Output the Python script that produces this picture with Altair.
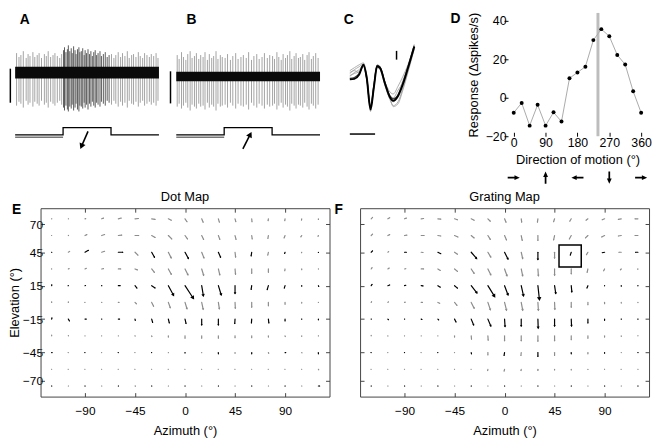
import math
import altair as alt
import numpy as np
import pandas as pd

FONT = "Liberation Sans"

# ---------------- Panels A & B: extracellular recordings (time in s, amplitude in a.u.) ----------------
A_SPIKE_T = [0.03, 0.08, 0.12, 0.17, 0.23, 0.27, 0.31, 0.37, 0.41, 0.46, 0.50, 0.55, 0.61, 0.65, 0.69, 0.74, 0.79, 0.83, 0.88, 0.93, 0.97,
             1.01, 1.03, 1.06, 1.09, 1.11, 1.14, 1.17, 1.19, 1.22, 1.25, 1.27, 1.30, 1.33, 1.35, 1.38, 1.41, 1.44, 1.46, 1.49, 1.52,
             1.55, 1.58, 1.61, 1.64, 1.67, 1.70, 1.73, 1.77, 1.80, 1.84, 1.88, 1.92, 1.96,
             2.01, 2.06, 2.10, 2.15, 2.20, 2.24, 2.29, 2.34, 2.38, 2.43, 2.47, 2.52, 2.57, 2.61, 2.66, 2.70, 2.75, 2.80, 2.84, 2.89, 2.94, 2.98]
A_SPIKE_TOP = [20, 16, 18, 22, 15, 19, 17, 21, 16, 18, 20, 15, 19, 17, 22, 16, 18, 20, 17, 15, 19,
               23, 26, 21, 24, 28, 22, 25, 20, 27, 23, 19, 24, 26, 21, 22, 25, 18, 23, 20, 24,
               19, 22, 17, 21, 23, 18, 20, 22, 17, 19, 21, 16, 18,
               19, 15, 18, 21, 16, 20, 17, 22, 15, 18, 19, 16, 21, 17, 15, 20, 18, 16, 19, 17, 20, 15]
A_SPIKE_BOT = [-34, -30, -32, -36, -29, -33, -31, -35, -30, -32, -34, -29, -33, -31, -36, -30, -32, -34, -31, -29, -33,
               -36, -39, -34, -38, -40, -35, -37, -33, -39, -36, -32, -38, -40, -34, -35, -37, -31, -36, -33, -38,
               -32, -35, -30, -34, -36, -31, -33, -35, -30, -32, -34, -29, -31,
               -33, -29, -32, -35, -30, -34, -31, -36, -29, -32, -33, -30, -35, -31, -29, -34, -32, -30, -33, -31, -34, -29]
B_SPIKE_T = [0.02, 0.06, 0.11, 0.15, 0.20, 0.24, 0.29, 0.33, 0.38, 0.42, 0.47, 0.51, 0.56, 0.60, 0.65, 0.69, 0.74, 0.78, 0.83, 0.87,
             0.92, 0.96, 1.02, 1.07, 1.13, 1.18, 1.24, 1.29, 1.35, 1.40, 1.46, 1.51, 1.57, 1.62, 1.68, 1.73, 1.79, 1.84, 1.90, 1.95,
             2.01, 2.05, 2.10, 2.14, 2.19, 2.23, 2.28, 2.32, 2.37, 2.41, 2.46, 2.50, 2.55, 2.59, 2.64, 2.68, 2.73, 2.77, 2.82, 2.86,
             2.91, 2.96]
B_SPIKE_TOP = [22, 18, 25, 20, 17, 23, 26, 19, 21, 24, 18, 22, 20, 25, 17, 23, 19, 21, 26, 18,
               22, 20, 19, 23, 17, 21, 24, 18, 20, 22, 19, 25, 17, 21, 23, 18, 20, 24, 19, 22,
               21, 18, 25, 20, 17, 23, 19, 22, 26, 18, 21, 24, 19, 20, 23, 17, 22, 25, 18, 21,
               24, 19]
B_SPIKE_BOT = [-31, -28, -33, -30, -27, -32, -35, -29, -31, -33, -28, -31, -30, -34, -27, -32, -29, -31, -35, -28,
               -31, -30, -29, -32, -27, -30, -33, -28, -30, -31, -29, -34, -27, -30, -32, -28, -30, -33, -29, -31,
               -30, -28, -34, -30, -27, -32, -29, -31, -35, -28, -30, -33, -29, -30, -32, -27, -31, -34, -28, -30,
               -33, -29]
A_BASELINE, A_NOISE = 0.0, 6.0
B_BASELINE, B_NOISE = -4.0, 4.8
TRACE_START, TRACE_END = 0.0, 3.0
STIM_T = [0.0, 1.0, 1.0, 2.0, 2.0, 3.0]
STIM_LEVEL = [-64.0, -64.0, -56.5, -56.5, -64.0, -64.0]
STIM_PRE_T = [0.0, 1.0]
STIM_PRE_LEVEL = [-66.5, -66.5]
A_ARROW = [1.52, -60.5, 1.36, -78.5]      # tail t, tail y, tip t, tip y
B_ARROW = [1.39, -78.5, 1.57, -61.0]
A_SCALEBAR = [-0.10, 4.0, -31.0]           # t, y top, y bottom
B_SCALEBAR = [-0.12, 1.3, -31.7]

# ---------------- Panel C: spike waveforms (ms, a.u.) ----------------
C_T = [0.0, 0.18, 0.37, 0.54, 0.67, 0.82, 0.95, 1.08, 1.2, 1.4, 1.59, 1.72, 1.91, 2.1, 2.3, 2.55]
C_MEAN = [-7, -6.5, -2, 8, -5.5, -38, -15.5, 6.5, 4.5, -12, -25.5, -29, -24, -12, 4.5, 26.5]
C_DARK = [-6, -5, -1, 7, -6.5, -36, -14, 7.5, 5.5, -11, -24, -27, -23, -11, 5.5, 27.5]
C_GRAY = [
    [2, 5, 8, 10, -3, -36, -14, 7, 5, -10, -20, -22, -14, -4, 8, 28],
    [-1, 3, 6, 9, -6, -33, -13, 8, 6, -13, -28, -34, -30, -16, 2, 25],
    [-4, 0, 3, 7, -4, -40, -17, 5, 3, -14, -27, -30, -22, -8, 7, 29],
    [0, 2, 0, 6, -7, -35, -16, 7, 5, -11, -24, -26, -18, -10, 5, 27],
    [-3, -1, 1, 8, -5, -37, -15, 6, 4, -12, -26, -35, -32, -18, 0, 24],
]
C_VBAR = [1.85, 22.3, 13.3]
C_HBAR = [0.0, 1.0, -63.2]

# ---------------- Panel D: direction tuning ----------------
DIRECTIONS = [0, 22.5, 45, 67.5, 90, 112.5, 135, 157.5, 180, 202.5, 225, 247.5, 270, 292.5, 315, 337.5, 360]
RESPONSE = [-7.8, -2.7, -14.5, -3.7, -14.5, -7.6, -12.4, 10.1, 13.1, 16.1, 29.9, 35.6, 31.9, 22.2, 17.2, 3.3, -7.8]
PREFERRED_DIR = 238
ARROW_DIRS = [0, 90, 180, 270, 360]

# ---------------- Panels E & F: local motion maps ----------------
AZIMUTHS = [-120, -105, -90, -75, -60, -45, -30, -15, 0, 15, 30, 45, 60, 75, 90, 105, 120]
ELEVATIONS = [75, 60, 45, 30, 15, 0, -15, -30, -45, -60, -75]
E_U = [
    [0.5, 0.5, 1.0, 2.0, 3.0, 3.5, 3.5, 3.0, 2.0, 1.5, 1.0, 0.8, 0.3, -0.3, -0.3, -0.3, 0.0],
    [0.3, 0.5, 2.0, 3.0, 3.5, 3.8, 3.5, 3.5, 2.5, 2.0, 1.5, 1.0, 0.5, -0.5, -1.0, -1.0, -0.5],
    [0.5, 1.5, 3.5, 3.0, 4.5, 3.0, 2.9, 2.9, 3.5, 2.3, 2.3, 0.6, -0.6, -0.6, -0.5, -0.3, 0.0],
    [0.3, 1.0, 1.5, 2.0, 2.5, 2.5, 2.8, 3.0, 3.0, 2.0, 1.5, 0.5, 0.0, 0.0, -0.3, 0.0, 0.0],
    [0.2, 0.3, 0.8, 0.5, 2.0, 2.0, 3.5, 5.2, 8.2, 1.7, 2.9, 0.0, -0.6, -1.2, -0.8, 0.0, 0.5],
    [0.0, 0.0, 0.3, 0.5, 1.0, 1.5, 2.0, 2.0, 2.0, 1.5, 1.0, 0.3, 0.0, 0.0, 0.0, 0.0, 0.0],
    [0.3, 1.2, 1.5, 0.5, 1.5, 0.3, 1.0, 1.0, 1.0, 0.0, 0.0, -0.3, -0.3, 0.5, 0.0, 0.0, 0.0],
    [0.0, 0.3, 0.0, 0.0, 0.0, 0.3, 0.3, 0.0, 0.0, 0.0, 0.0, 0.0, 0.0, 0.0, 0.3, 0.0, 0.0],
    [0.8, 0.3, 0.3, 0.3, 0.3, 0.3, 0.3, 0.0, 0.0, 0.0, 0.0, 0.0, 0.0, 0.5, 1.0, 0.5, 0.0],
    [0.3, 0.3, 0.3, 0.3, 0.3, 0.3, 0.3, 0.3, 0.3, 0.3, 0.3, 0.3, 0.3, 0.3, 0.3, 0.3, 0.5],
    [0.5, 0.5, 0.5, 0.5, 0.5, 0.8, 0.5, 0.5, 0.5, 0.5, 0.5, 0.5, 0.5, 0.5, 0.5, 0.5, 1.5],
]
E_V = [
    [0.0, 0.0, 0.3, 0.8, 0.8, 0.3, -0.5, -1.5, -3.0, -3.5, -3.5, -3.0, -3.0, -2.0, -2.0, -1.5, -1.0],
    [0.0, 0.3, 1.0, 1.0, 0.5, 0.0, -2.0, -3.5, -3.5, -4.0, -4.0, -4.0, -3.5, -3.0, -2.5, -1.5, -1.0],
    [0.0, 1.0, 2.0, 1.0, 0.0, -3.0, -5.2, -5.8, -6.4, -5.8, -5.2, -5.0, -3.8, -3.0, -1.5, -0.8, -0.5],
    [0.0, 0.5, 0.8, 0.3, 0.0, -1.0, -3.5, -5.5, -6.0, -6.5, -6.0, -5.5, -4.5, -3.5, -2.0, -1.0, -0.5],
    [1.2, 0.0, 0.3, 0.0, 0.0, -2.5, -2.3, -9.6, -12.5, -10.2, -9.3, -7.9, -3.8, -4.0, -2.5, -0.8, -1.0],
    [1.0, 0.8, 0.0, 0.0, 0.0, -1.5, -4.0, -5.5, -6.5, -7.0, -6.5, -6.0, -5.0, -3.5, -2.0, -1.0, -0.3],
    [1.5, -2.0, 0.0, 0.0, 0.0, -1.5, -3.5, -4.0, -4.5, -6.0, -6.0, -4.5, -4.0, -4.0, -2.0, -0.5, -1.0],
    [1.0, 0.5, 0.0, 0.0, 0.0, -0.5, -1.0, -1.5, -2.5, -2.5, -2.5, -2.0, -2.0, -1.5, -1.0, -0.8, -0.5],
    [0.0, 0.0, 0.0, 0.0, 0.0, 0.0, 0.0, -0.5, -0.8, -0.5, -1.5, -1.0, -1.5, -1.0, -0.2, -0.5, -1.5],
    [0.0, 0.0, 0.0, 0.0, 0.0, 0.0, 0.0, 0.0, 0.0, 0.0, 0.0, 0.0, 0.0, 0.0, 0.0, 0.0, -0.8],
    [0.0, 0.0, 0.0, 0.0, 0.0, -0.2, 0.0, 0.0, 0.0, 0.0, 0.0, 0.0, 0.0, 0.0, 0.0, 0.0, 0.0],
]
F_U = [
    [1.5, 2.0, 2.0, 2.5, 3.0, 3.0, 3.0, 2.5, 1.5, 0.5, -0.5, -1.0, -1.5, -2.0, -2.5, -3.0, -3.0],
    [1.5, 2.0, 2.5, 3.0, 3.0, 3.5, 3.0, 2.5, 2.0, 1.0, 0.0, -1.0, -2.0, -2.5, -3.0, -3.0, -3.0],
    [1.5, 1.0, 2.0, 2.0, 3.0, 3.0, 5.5, 3.0, 3.5, 1.5, 0.0, 0.0, -1.0, -1.5, -2.5, -2.5, -2.5],
    [1.0, 1.5, 1.5, 2.5, 2.5, 3.0, 3.0, 3.0, 2.5, 1.5, 0.5, 0.0, 0.0, -0.8, -1.0, -1.0, -0.5],
    [1.0, 2.0, 1.5, 2.0, 2.5, 3.0, 5.8, 6.7, 3.5, 2.3, 1.5, 1.2, 0.6, -1.0, 0.0, 0.0, 0.0],
    [0.5, 0.8, 1.0, 1.5, 2.0, 2.5, 3.0, 2.5, 2.0, 1.5, 0.5, 0.3, 0.0, 0.0, 0.0, 0.0, 0.0],
    [0.5, 0.8, 0.5, 1.0, 1.0, 1.5, 2.5, 3.0, 0.5, 0.0, 0.3, 0.0, 0.3, 0.0, 0.0, 0.0, 0.0],
    [0.0, 0.0, 0.0, 0.0, 0.0, 0.0, 0.3, 0.3, 0.0, 0.0, 0.0, 0.0, 0.0, 0.0, 0.0, 0.0, 0.0],
    [0.3, 0.3, 0.3, 0.3, 0.3, 0.3, 0.3, 0.0, -0.5, -0.3, 0.0, 0.0, 0.0, 0.0, 0.0, 0.0, 0.5],
    [0.3, 0.3, 0.3, 0.3, 0.3, 0.3, 0.3, -0.3, -0.5, -0.3, 0.0, 0.0, 0.0, 0.0, 0.3, 0.3, 0.5],
    [0.5, 0.5, 0.5, 0.5, 0.5, 0.5, 0.5, 0.5, 0.5, 0.5, 0.5, 0.5, 0.5, 0.5, 0.5, 0.5, 0.5],
]
F_V = [
    [1.5, 1.2, 0.8, 0.3, -0.3, -1.0, -1.5, -2.5, -3.5, -3.5, -3.5, -3.0, -2.5, -1.5, -1.0, -0.5, 0.0],
    [1.5, 1.0, 0.5, 0.0, -0.5, -1.5, -2.5, -4.0, -4.5, -5.0, -5.0, -4.5, -3.5, -2.5, -1.5, -0.5, 0.0],
    [1.5, 0.8, 0.0, -0.3, -1.5, -2.0, -6.4, -5.0, -7.0, -6.5, -7.5, -6.0, -3.0, -2.5, -0.5, 0.0, 0.0],
    [1.5, 1.0, 0.3, 0.0, -1.5, -2.5, -4.5, -6.0, -7.0, -7.0, -7.0, -6.5, -5.0, -3.5, -2.0, -1.0, -0.5],
    [1.5, 0.8, 0.5, -0.3, -1.5, -2.5, -7.3, -10.8, -9.3, -10.2, -13.7, -7.9, -6.4, -2.5, -0.5, -0.8, -0.5],
    [1.0, 0.8, 0.3, 0.0, -1.0, -3.0, -6.0, -7.5, -8.0, -8.0, -8.0, -7.0, -5.0, -2.5, -1.5, -1.0, -0.5],
    [0.0, -0.8, 0.0, -0.5, -1.0, -3.0, -6.0, -7.0, -7.5, -7.0, -9.0, -7.0, -7.0, -4.0, -1.5, -0.5, -0.5],
    [0.8, 0.3, 0.0, 0.0, 0.0, -1.5, -3.5, -4.5, -5.0, -5.0, -5.5, -5.0, -4.0, -2.5, -1.5, -0.8, -0.3],
    [0.0, 0.0, 0.0, 0.0, 0.0, 0.0, -1.5, -2.5, -3.0, -3.0, -4.0, -3.0, -1.5, -1.5, -1.0, -0.3, 0.0],
    [0.0, 0.0, 0.0, 0.0, 0.0, 0.0, 0.0, -1.5, -2.0, -1.5, -1.5, -1.0, -1.0, -0.5, -0.3, 0.0, 0.0],
    [0.0, 0.0, 0.0, 0.0, 0.0, 0.0, 0.0, 0.0, 0.0, 0.0, 0.0, 0.0, 0.0, 0.0, 0.0, 0.0, 0.0],
]
MEASURED_FULL_ROWS = [15, -15]
MEASURED_ALT_ROWS = [45, -45, -75]
F_BOX = [49, 69, 31.7, 51.5]   # az0, az1, el0, el1
AZ_TICKS = [-90, -45, 0, 45, 90]
EL_TICKS = [70, 45, 15, -15, -45, -70]
MAP_TITLE_POS = [0, 94.4]      # azimuth, elevation of the panel titles

# ---------------- layout constants ----------------
TRACE_H = 143
TRACE_Y = [-83.7, 61.3]
MAP_W, MAP_H = 293, 191
MAP_X = [-130, 130]
MAP_Y = [-84.5, 84.5]
D_W, D_H = 149, 125
D_X = [-27.3, 387.9]
D_Y = [-20, 44]

BLACK = "#000000"
GRAY = "#8c8c8c"
INWARD = {"expr": "-4"}


def sc(domain):
    return alt.Scale(domain=domain, nice=False, zero=False)


def head_geometry(x0, y0, x1, y1, kx, ky, w):
    dxp, dyp = (x1 - x0) * kx, (y1 - y0) * ky
    L = math.hypot(dxp, dyp)
    if L == 0:
        return x1, y1, 0.0
    ux, uy = dxp / L, dyp / L
    h = 0.433 * w
    return x1 - ux * h / kx, y1 - uy * h / ky, math.degrees(math.atan2(dxp, dyp)) % 360


def text_layer(label, x, y, xs, ys, size=14, weight="bold", xaxis=None, yaxis=None):
    df = pd.DataFrame({"x": [x], "y": [y], "label": [label]})
    return alt.Chart(df).mark_text(font=FONT, fontSize=size, fontWeight=weight, color="black",
                                   align="center", baseline="middle").encode(
        x=alt.X("x:Q", scale=xs, axis=xaxis), y=alt.Y("y:Q", scale=ys, axis=yaxis), text="label:N")


def arrow_layers(arr, xs, ys, kx, ky, w=6.5):
    t0, y0, t1, y1 = arr
    cx, cy, ang = head_geometry(t0, y0, t1, y1, kx, ky, w)
    shaft = alt.Chart(pd.DataFrame({"x": [t0], "y": [y0], "x2": [cx], "y2": [cy]})).mark_rule(
        color="black", strokeWidth=1.6).encode(
        x=alt.X("x:Q", scale=xs, axis=None), y=alt.Y("y:Q", scale=ys, axis=None), x2="x2:Q", y2="y2:Q")
    head = alt.Chart(pd.DataFrame({"x": [cx], "y": [cy], "a": [ang]})).mark_point(
        shape="triangle-up", filled=True, size=w * w, color="black", opacity=1, strokeWidth=0).encode(
        x=alt.X("x:Q", scale=xs, axis=None), y=alt.Y("y:Q", scale=ys, axis=None),
        angle=alt.Angle("a:Q", scale=None))
    return [shaft, head]


def trace_panel(spk_t, spk_top, spk_bot, base, noise, bar, arrow, letter, letter_t, domain_t, width, dark):
    xs, ys = sc(domain_t), sc(TRACE_Y)
    kx = width / (domain_t[1] - domain_t[0])
    ky = TRACE_H / (TRACE_Y[1] - TRACE_Y[0])
    sp = pd.DataFrame({"t": spk_t, "top": [base + v for v in spk_top], "bot": [base + v for v in spk_bot]})
    in_stim = (sp.t > 1.0) & (sp.t < 2.0)
    sp["shade"] = np.where(in_stim & dark, "#5a5a5a", "#a3a3a3")
    spikes = alt.Chart(sp).mark_rule(strokeWidth=1).encode(
        x=alt.X("t:Q", scale=xs, axis=None), y=alt.Y("top:Q", scale=ys, axis=None), y2="bot:Q",
        color=alt.Color("shade:N", scale=None))
    band = alt.Chart(pd.DataFrame({"t0": [TRACE_START], "t1": [TRACE_END], "lo": [base - noise], "hi": [base + noise]})).mark_rect(
        color="#0a0a0a").encode(x=alt.X("t0:Q", scale=xs, axis=None), x2="t1:Q",
                                y=alt.Y("lo:Q", scale=ys, axis=None), y2="hi:Q")
    sbar = alt.Chart(pd.DataFrame({"t": [bar[0]], "a": [bar[1]], "b": [bar[2]]})).mark_rule(
        color="black", strokeWidth=1.5).encode(x=alt.X("t:Q", scale=xs, axis=None),
                                               y=alt.Y("a:Q", scale=ys, axis=None), y2="b:Q")
    stim = alt.Chart(pd.DataFrame({"t": STIM_T, "lvl": STIM_LEVEL, "o": list(range(len(STIM_T)))})).mark_line(
        color="black", strokeWidth=1.3).encode(x=alt.X("t:Q", scale=xs, axis=None),
                                               y=alt.Y("lvl:Q", scale=ys, axis=None), order="o:Q")
    stim_pre = alt.Chart(pd.DataFrame({"t": STIM_PRE_T, "lvl": STIM_PRE_LEVEL})).mark_line(
        color="#777777", strokeWidth=1.3).encode(x=alt.X("t:Q", scale=xs, axis=None),
                                                 y=alt.Y("lvl:Q", scale=ys, axis=None))
    layers = [spikes, band, sbar, stim_pre, stim] + arrow_layers(arrow, xs, ys, kx, ky) + \
        [text_layer(letter, letter_t, 54.0, xs, ys)]
    return alt.layer(*layers).properties(width=width, height=TRACE_H)


# panel A's plot origin is aligned with panel E's; its early part is drawn to the left of that origin
panelA = trace_panel(A_SPIKE_T, A_SPIKE_TOP, A_SPIKE_BOT, A_BASELINE, A_NOISE, A_SCALEBAR, A_ARROW,
                     "A", 0.2, [0.53, 3.081], 124, True)
panelB = trace_panel(B_SPIKE_T, B_SPIKE_TOP, B_SPIKE_BOT, B_BASELINE, B_NOISE, B_SCALEBAR, B_ARROW,
                     "B", 0.32, [-0.28, 3.095], 164, False)

# ---- Panel C ----
C_DOMAIN = [-1.0, 3.96]
C_WIDTH = 127
xsC, ysC = sc(C_DOMAIN), sc(TRACE_Y)
rowsC = []
for k, g in enumerate(C_GRAY):
    for t, v in zip(C_T, g):
        rowsC.append({"t": t, "v": v, "id": f"g{k}", "kind": "gray"})
for t, v in zip(C_T, C_DARK):
    rowsC.append({"t": t, "v": v, "id": "dark", "kind": "dark"})
dfC = pd.DataFrame(rowsC)
c_gray = alt.Chart(dfC[dfC.kind == "gray"]).mark_line(color="#9a9a9a", strokeWidth=0.8, interpolate="monotone").encode(
    x=alt.X("t:Q", scale=xsC, axis=None), y=alt.Y("v:Q", scale=ysC, axis=None), detail="id:N")
c_dark = alt.Chart(dfC[dfC.kind == "dark"]).mark_line(color="#3a3a3a", strokeWidth=1.2, interpolate="monotone").encode(
    x=alt.X("t:Q", scale=xsC, axis=None), y=alt.Y("v:Q", scale=ysC, axis=None))
c_mean = alt.Chart(pd.DataFrame({"t": C_T, "v": C_MEAN})).mark_line(color="black", strokeWidth=2.0, interpolate="monotone").encode(
    x=alt.X("t:Q", scale=xsC, axis=None), y=alt.Y("v:Q", scale=ysC, axis=None))
c_vbar = alt.Chart(pd.DataFrame({"t": [C_VBAR[0]], "a": [C_VBAR[1]], "b": [C_VBAR[2]]})).mark_rule(
    color="black", strokeWidth=1.5).encode(x=alt.X("t:Q", scale=xsC, axis=None),
                                           y=alt.Y("a:Q", scale=ysC, axis=None), y2="b:Q")
c_hbar = alt.Chart(pd.DataFrame({"a": [C_HBAR[0]], "b": [C_HBAR[1]], "v": [C_HBAR[2]]})).mark_rule(
    color="black", strokeWidth=1.5).encode(x=alt.X("a:Q", scale=xsC, axis=None), x2="b:Q",
                                           y=alt.Y("v:Q", scale=ysC, axis=None))
panelC = alt.layer(c_gray, c_dark, c_mean, c_vbar, c_hbar, text_layer("C", -0.04, 54.0, xsC, ysC)).properties(
    width=C_WIDTH, height=TRACE_H)

# ---- Panel D ----
xsD, ysD = sc(D_X), sc(D_Y)
dfD = pd.DataFrame({"dir": DIRECTIONS, "resp": RESPONSE})
axD_common = dict(labelFont=FONT, titleFont=FONT, labelFontSize=12.5, titleFontSize=13, titleFontWeight="normal",
                  labelColor="black", titleColor="black", domain=False, tickColor="black",
                  tickSize=INWARD, grid=False)
xaxD = alt.Axis(values=[0, 90, 180, 270, 360], title="Direction of motion (°)", labelPadding=4, titlePadding=5,
                **axD_common)
yaxD = alt.Axis(values=[-20, 0, 20, 40], title="Response (Δspikes/s)", labelPadding=2, titlePadding=5, **axD_common)
d_pref = alt.Chart(pd.DataFrame({"dir": [PREFERRED_DIR]})).mark_rule(color="#bdbdbd", strokeWidth=3).encode(
    x=alt.X("dir:Q", scale=xsD, axis=xaxD))
d_line = alt.Chart(dfD).mark_line(color="#aaaaaa", strokeWidth=1).encode(
    x=alt.X("dir:Q", scale=xsD, axis=xaxD), y=alt.Y("resp:Q", scale=ysD, axis=yaxD))
d_pts = alt.Chart(dfD).mark_circle(color="black", size=16, opacity=1).encode(
    x=alt.X("dir:Q", scale=xsD, axis=xaxD), y=alt.Y("resp:Q", scale=ysD, axis=yaxD))
panelD = alt.layer(d_pref, d_line, d_pts,
                   text_layer("D", -164.7, 41.0, xsD, ysD, xaxis=xaxD, yaxis=yaxD)).properties(width=D_W, height=D_H)

dfArr = pd.DataFrame({"dir": ARROW_DIRS})
dfArr["ang"] = (90 - dfArr["dir"]) % 360
dirArrows = alt.Chart(dfArr).mark_point(shape="arrow", filled=True, size=150, color="black", opacity=1,
                                        strokeWidth=0).encode(
    x=alt.X("dir:Q", scale=xsD, axis=None),
    y=alt.YDatum(0, scale=sc([-1, 1]), axis=None),
    angle=alt.Angle("ang:Q", scale=None)).properties(width=D_W, height=14)
colD = alt.vconcat(panelD, dirArrows, spacing=35, bounds="flush")

top_row = alt.hconcat(panelA, panelB, panelC, colD, spacing=0)

# ---- Panels E & F ----
PX = MAP_W / (MAP_X[1] - MAP_X[0])


def quiver_df(U, V):
    rows = []
    for i, el in enumerate(ELEVATIONS):
        for j, az in enumerate(AZIMUTHS):
            u, v = U[i][j], V[i][j]
            measured = el in MEASURED_FULL_ROWS or (el in MEASURED_ALT_ROWS and az % 30 == 0)
            Lpx = math.hypot(u, v) * PX
            w = min(max(0.3 * Lpx, 1.0), 4.5)
            cx, cy, ang = head_geometry(az, el, az + u, el + v, PX, PX, w)
            rows.append({"az": az, "el": el, "hx": cx, "hy": cy, "ang": ang, "hs": w * w,
                         "col": BLACK if measured else GRAY})
    return pd.DataFrame(rows)


ax_common = dict(labelFont=FONT, titleFont=FONT, labelFontSize=12, titleFontSize=13, titleFontWeight="normal",
                 labelColor="black", titleColor="black", domainColor="#444444", tickColor="#444444",
                 tickSize=INWARD, grid=False)


def map_panel(U, V, title, letter, show_ylabels, box=None):
    df = quiver_df(U, V)
    xs, ys = sc(MAP_X), sc(MAP_Y)
    xax = alt.Axis(values=AZ_TICKS, title="Azimuth (°)", labelPadding=13, titlePadding=8, **ax_common)
    if show_ylabels:
        yax = alt.Axis(values=EL_TICKS, title="Elevation (°)", labelPadding=2, titlePadding=1, **ax_common)
    else:
        yax = alt.Axis(values=EL_TICKS, title=None, labels=False, **ax_common)
    xtop = alt.Axis(values=AZ_TICKS, orient="top", labels=False, title=None, **ax_common)
    yright = alt.Axis(values=EL_TICKS, orient="right", labels=False, title=None, **ax_common)
    shafts = alt.Chart(df).mark_rule(strokeWidth=1.2, strokeCap="round").encode(
        x=alt.X("az:Q", scale=xs, axis=xax), y=alt.Y("el:Q", scale=ys, axis=yax),
        x2="hx:Q", y2="hy:Q", color=alt.Color("col:N", scale=None))
    heads = alt.Chart(df).mark_point(shape="triangle-up", filled=True, opacity=1, strokeWidth=0).encode(
        x=alt.X("hx:Q", scale=xs, axis=xtop), y=alt.Y("hy:Q", scale=ys, axis=yright),
        angle=alt.Angle("ang:Q", scale=None), size=alt.Size("hs:Q", scale=None),
        color=alt.Color("col:N", scale=None))
    layers = [shafts, heads]
    if box is not None:
        layers.append(alt.Chart(pd.DataFrame({"a0": [box[0]], "a1": [box[1]], "e0": [box[2]], "e1": [box[3]]})).mark_rect(
            fillOpacity=0, stroke="black", strokeWidth=1.5).encode(
            x=alt.X("a0:Q", scale=xs, axis=None), x2="a1:Q", y=alt.Y("e0:Q", scale=ys, axis=None), y2="e1:Q"))
    layers.append(text_layer(letter, -151.5 if show_ylabels else -149.2, 82.7, xs, ys))
    layers.append(text_layer(title, MAP_TITLE_POS[0], MAP_TITLE_POS[1], xs, ys, size=13, weight="normal"))
    return alt.layer(*layers).resolve_axis(x="independent", y="independent").properties(
        width=MAP_W, height=MAP_H)


panelE = map_panel(E_U, E_V, "Dot Map", "E", True)
panelF = map_panel(F_U, F_V, "Grating Map", "F", False, box=F_BOX)
bottom_row = alt.hconcat(panelE, panelF, spacing=4)

chart = alt.vconcat(top_row, bottom_row, spacing=6).properties(padding=0, background="white").configure(
    font=FONT).configure_view(strokeWidth=0)

chart.save("out.html", embed_options={"renderer": "svg", "actions": False})
